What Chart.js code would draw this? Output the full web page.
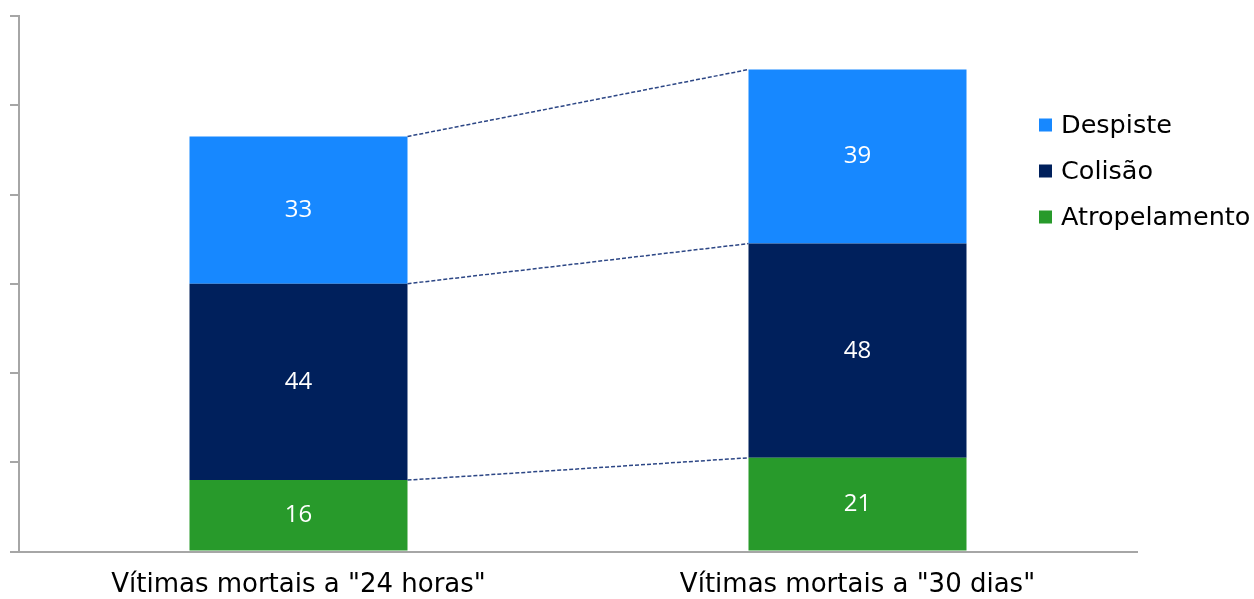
<!DOCTYPE html>
<html>
<head>
<meta charset="utf-8">
<script src="https://cdn.jsdelivr.net/npm/chart.js@4.4.1/dist/chart.umd.min.js"></script>
<style>
  html, body { margin: 0; padding: 0; background: #fff; }
  #wrap { width: 1254px; height: 599px; }
</style>
</head>
<body>
<div id="wrap"><canvas id="grafico"></canvas></div>
<script>
// dados
var categorias = ['Vítimas mortais a "24 horas"', 'Vítimas mortais a "30 dias"'];
var atropelamento = [16, 21];
var colisao = [44, 48];
var despiste = [33, 39];
var yTicks = [0, 20, 40, 60, 80, 100, 120];

var cores = {
    atropelamento: '#289a2b',
    colisao: '#00205c',
    despiste: '#1788ff'
};

// linhas tracejadas entre as barras
var ligacoes = {
    id: 'ligacoes',
    afterDatasetsDraw: function(chart) {
        var ctx = chart.ctx;
        ctx.save();
        ctx.strokeStyle = '#2c4685';
        ctx.lineWidth = 1.5;
        ctx.setLineDash([4, 2]);
        chart.data.datasets.forEach(function(ds, i) {
            var barras = chart.getDatasetMeta(i).data;
            var a = barras[0], b = barras[1];
            ctx.beginPath();
            ctx.moveTo(a.x + a.width / 2, a.y);
            ctx.lineTo(b.x - b.width / 2, b.y);
            ctx.stroke();
        });
        ctx.restore();
    }
};

// valores dentro das barras
var valores = {
    id: 'valores',
    afterDatasetsDraw: function(chart) {
        var ctx = chart.ctx;
        ctx.save();
        ctx.fillStyle = '#ffffff';
        ctx.font = '24px "Open Sans"';
        ctx.textAlign = 'center';
        ctx.textBaseline = 'middle';
        chart.data.datasets.forEach(function(ds, i) {
            chart.getDatasetMeta(i).data.forEach(function(bar, j) {
                ctx.fillText(ds.data[j], bar.x, (bar.y + bar.base) / 2);
            });
        });
        ctx.restore();
    }
};

// legenda à direita
var legenda = {
    id: 'legenda',
    afterDraw: function(chart) {
        var ctx = chart.ctx;
        var linhas = [125, 171, 217];
        var itens = chart.data.datasets.slice().reverse();
        ctx.save();
        ctx.font = '25.5px "DejaVu Sans"';
        ctx.textBaseline = 'middle';
        ctx.textAlign = 'left';
        itens.forEach(function(ds, k) {
            ctx.fillStyle = ds.backgroundColor;
            ctx.fillRect(1039, linhas[k] - 6.5, 13, 13);
            ctx.fillStyle = '#000';
            ctx.fillText(ds.label, 1061, linhas[k] + 1);
        });
        ctx.restore();
    }
};

var grafico = new Chart(document.getElementById('grafico').getContext('2d'), {
    type: 'bar',
    data: {
        labels: categorias,
        datasets: [
            { label: 'Atropelamento', data: atropelamento, backgroundColor: cores.atropelamento },
            { label: 'Colisão', data: colisao, backgroundColor: cores.colisao },
            { label: 'Despiste', data: despiste, backgroundColor: cores.despiste }
        ]
    },
    options: {
        responsive: true,
        maintainAspectRatio: false,
        animation: false,
        layout: { padding: { left: 10, top: 16, right: 117, bottom: -19.7 } },
        datasets: { bar: { categoryPercentage: 1, barPercentage: 0.39 } },
        plugins: {
            legend: { display: false },
            tooltip: { enabled: false }
        },
        scales: {
            x: {
                stacked: true,
                grid: { display: false, drawTicks: false },
                border: { display: true, color: '#a6a6a6', width: 2 },
                ticks: {
                    color: '#000',
                    padding: 18,
                    font: { family: 'DejaVu Sans', size: 26 }
                }
            },
            y: {
                stacked: true,
                min: yTicks[0],
                max: yTicks[yTicks.length - 1],
                afterBuildTicks: function(axis) {
                    axis.ticks = yTicks.map(function(v) { return { value: v }; });
                },
                grid: { drawOnChartArea: false, drawTicks: true, tickLength: 9, color: '#a6a6a6', lineWidth: 2 },
                border: { display: true, color: '#a6a6a6', width: 2 },
                ticks: { display: false }
            }
        }
    },
    plugins: [ligacoes, valores, legenda]
});
</script>
</body>
</html>
